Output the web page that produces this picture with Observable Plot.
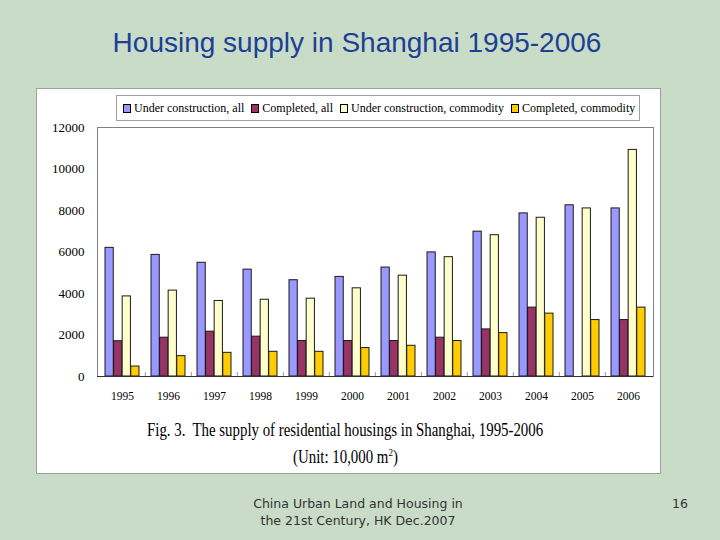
<!DOCTYPE html>
<html>
<head>
<meta charset="utf-8">
<script src="https://cdn.jsdelivr.net/npm/d3@7"></script>
<script src="https://cdn.jsdelivr.net/npm/@observablehq/plot@0.6"></script>
<style>
  html, body { margin: 0; padding: 0; }
  #slide { position: relative; width: 720px; height: 540px; background: #c9dcc8; overflow: hidden; font-family: "Liberation Sans", Arial, sans-serif; }
  #title { position: absolute; left: 0; top: 27px; width: 714px; text-align: center; font-size: 28px; line-height: 32px; color: #1e3f95; }
  #panel { position: absolute; left: 37px; top: 89px; width: 623px; height: 384px; background: #fff; outline: 1px solid #9aa39a; }
  #chart { position: absolute; left: 0; top: 0; }
  #legend { position: absolute; left: 79px; top: 6px; width: 516px; height: 24px; border: 1px solid #a0a0a0; display: flex; align-items: center; padding-left: 6px; box-sizing: content-box; font-family: "Liberation Serif", "Times New Roman", serif; font-size: 12px; color: #000; white-space: nowrap; }
  .item { display: flex; align-items: center; margin-right: 7px; }
  .sw { width: 6px; height: 7px; border: 1px solid #000; margin-right: 3px; }
  .cap { position: absolute; left: 0; width: 616px; text-align: center; font-family: "Liberation Serif", "Times New Roman", serif; color: #000; }
  .cap span { display: inline-block; transform: scaleX(0.825); transform-origin: center; }
  #foot { position: absolute; left: 208px; top: 495px; width: 300px; text-align: center; font-family: "DejaVu Sans", sans-serif; font-size: 12.5px; line-height: 17px; color: #333; }
  #page { position: absolute; left: 660px; top: 495px; width: 40px; text-align: center; font-family: "DejaVu Sans", sans-serif; font-size: 12.5px; line-height: 17px; color: #333; }
</style>
</head>
<body>
<div id="slide">
  <div id="title">Housing supply in Shanghai 1995-2006</div>
  <div id="panel">
    <div id="chart"></div>
    <div id="legend"></div>
    <div class="cap" style="top:330px; font-size:18px; line-height:22px;"><span>Fig. 3.&nbsp; The supply of residential housings in Shanghai, 1995-2006</span></div>
    <div class="cap" style="top:357px; font-size:18px; line-height:22px;"><span>(Unit: 10,000 m<sup style="font-size:11px; vertical-align: 7px; line-height:0;">2</sup>)</span></div>
  </div>
  <div id="foot">China Urban Land and Housing in<br>the 21st Century, HK Dec.2007</div>
  <div id="page">16</div>
</div>
<script>
// ---- data ----
const years = ["1995","1996","1997","1998","1999","2000","2001","2002","2003","2004","2005","2006"];
const seriesNames = ["Under construction, all", "Completed, all", "Under construction, commodity", "Completed, commodity"];
const underConstructionAll = [6200, 5860, 5480, 5150, 4640, 4800, 5250, 5980, 6980, 7860, 8250, 8100];
const completedAll = [1700, 1870, 2160, 1920, 1710, 1710, 1710, 1870, 2270, 3320, null, 2720];
const underConstructionCommodity = [3860, 4140, 3640, 3700, 3750, 4250, 4860, 5750, 6810, 7650, 8100, 10920];
const completedCommodity = [480, 980, 1140, 1190, 1190, 1370, 1480, 1710, 2090, 3030, 2720, 3320];
const yTicks = [0, 2000, 4000, 6000, 8000, 10000, 12000];
const seriesColors = ["#9999ff", "#993366", "#ffffcc", "#ffcc00"];

const seriesValues = [underConstructionAll, completedAll, underConstructionCommodity, completedCommodity];
const tables = seriesValues.map((vals, i) =>
  years.map((year, j) => ({year, series: seriesNames[i], value: vals[j]})).filter(d => d.value != null)
);

// ---- layout ----
const W = 623, H = 320;
const mL = 60, mR = 7, mT = 38, mB = 33;
const step = (W - mL - mR) / years.length;
const groupInset = 6;
const barW = (step - 2 * groupInset) / seriesNames.length;

const barMarks = tables.map((t, i) => Plot.barY(t, {
  x: "year", y: "value",
  fill: seriesColors[i], stroke: "#1a1a1a", strokeWidth: 1,
  insetLeft: groupInset + barW * i,
  insetRight: step - groupInset - barW * (i + 1)
}));

const chart = Plot.plot({
  width: W, height: H,
  marginLeft: mL, marginRight: mR, marginTop: mT, marginBottom: mB,
  style: {fontFamily: "'Liberation Serif', 'Times New Roman', serif", fontSize: "13px", color: "#000", background: "transparent"},
  x: {type: "band", domain: years, padding: 0, label: null},
  y: {domain: [0, 12000], label: null},
  marks: [
    Plot.frame({stroke: "#808080"}),
    ...barMarks,
    Plot.ruleX(years.slice(1), {x: d => d, y1: 0, y2: 0, insetTop: -4, dx: -step / 2, stroke: "#999"}),
    Plot.ruleY([0], {stroke: "#333"}),
    Plot.axisY({ticks: yTicks, tickSize: 0, tickPadding: 13, tickFormat: d3.format("d"), fontSize: 13, label: null}),
    Plot.axisX({tickSize: 0, tickPadding: 15, fontSize: 11.5, label: null})
  ]
});
document.getElementById("chart").appendChild(chart);

// ---- legend ----
const legend = document.getElementById("legend");
seriesNames.forEach((name, i) => {
  const item = document.createElement("div");
  item.className = "item";
  const sw = document.createElement("div");
  sw.className = "sw";
  sw.style.background = seriesColors[i];
  const label = document.createElement("span");
  label.textContent = name;
  item.appendChild(sw);
  item.appendChild(label);
  legend.appendChild(item);
});
</script>
</body>
</html>
